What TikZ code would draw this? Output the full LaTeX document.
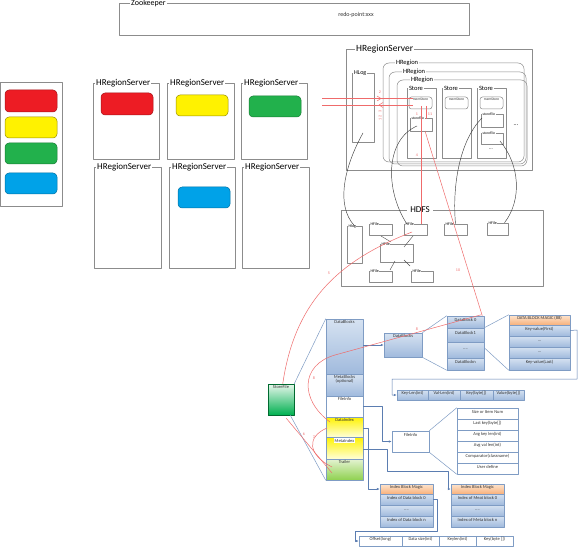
\documentclass[tikz,border=0pt]{standalone}
\usepackage{fontspec}
\setmainfont{Carlito}
\usetikzlibrary{fit,arrows.meta}
\definecolor{fr}{HTML}{8C8C8C}
\definecolor{bd}{HTML}{7F9CC4}
\definecolor{ln}{HTML}{5B7DB1}
\definecolor{bl1}{HTML}{D6E2F1}
\definecolor{bl2}{HTML}{A0BADD}
\definecolor{or1}{HTML}{FDE5CF}
\definecolor{or2}{HTML}{F8B07A}
\definecolor{rd}{HTML}{EF6B6B}
\definecolor{pR}{HTML}{ED1C24}
\definecolor{pY}{HTML}{FFF200}
\definecolor{pG}{HTML}{22B14C}
\definecolor{pB}{HTML}{00A2E8}
\definecolor{gn1}{HTML}{E8F7EC}
\definecolor{gn2}{HTML}{00B050}
\definecolor{tg1}{HTML}{E4F3D2}
\definecolor{tg2}{HTML}{8FD14F}
\definecolor{yl2}{HTML}{FFFFD8}
\newcommand\fsz[1]{\fontsize{#1}{#1}\selectfont}
\newcommand\mkbox[7]{\node[inner sep=0pt,#1,fit={(#3,#4) (#5,#6)}] (#2) {#7};}
\begin{document}
\begin{tikzpicture}[x=1pt,y=-1pt,line join=round,
 frame/.style={draw=fr,line width=0.5pt},
 flab/.style={fill=white,inner xsep=1pt,inner ysep=0pt,anchor=west,font=\fsz{9}},
 slab/.style={fill=white,inner xsep=0.8pt,inner ysep=0pt,anchor=west,font=\fsz{6}},
 tlab/.style={fill=white,inner xsep=0.4pt,inner ysep=0pt,anchor=west,font=\fsz{3.6}},
 pill/.style={rounded corners=4pt,line width=0.5pt},
 cell/.style={draw=bd,line width=0.5pt,font=\fsz{4.5},text=black!80},
 bcell/.style={cell,top color=bl1,bottom color=bl2},
 ocell/.style={cell,top color=or1,bottom color=or2},
 wcell/.style={cell,fill=white},
 ttl/.style={font=\fsz{4.5},text=black!80,anchor=north,inner sep=1.2pt},
 conn/.style={draw=ln,line width=0.5pt},
 arr/.style={conn,-{Latex[length=3pt,width=2.4pt]}},
 rline/.style={draw=rd,line width=0.5pt},
 rnum/.style={text=rd,font=\fsz{4},inner sep=0.5pt},
 cur/.style={draw=black!75,line width=0.45pt},
 thin/.style={draw=black!70,line width=0.4pt}]
\useasboundingbox[fill=white] (0,0) rectangle (578,548);

% ---------- Zookeeper
\mkbox{frame}{zk}{119}{3}{469}{35}{}
\node[flab,font=\fsz{8}] (zkl) at (130,3.5) {Zookeeper};
\node[font=\fsz{6},text=black!80] (redo) at (356,15) {redo-point:xxx};

% ---------- legend
\mkbox{frame}{leg}{0.5}{82}{62}{206}{}
\mkbox{pill,fill=pR,draw=pR!70!black}{lr}{5}{90}{57}{112}{}
\mkbox{pill,fill=pY,draw=pY!60!black}{ly}{5}{117}{57}{138}{}
\mkbox{pill,fill=pG,draw=pG!70!black}{lg}{5}{143}{57}{164}{}
\mkbox{pill,fill=pB,draw=pB!70!black}{lb}{5}{173}{57}{194}{}

% ---------- small region servers
\mkbox{frame}{s1}{93}{83}{159}{159}{}
\mkbox{frame}{s2}{167}{83}{234}{159}{}
\mkbox{frame}{s3}{241}{83}{307}{159}{}
\mkbox{frame}{s4}{94}{167}{161}{268}{}
\mkbox{frame}{s5}{169}{167}{235}{268}{}
\mkbox{frame}{s6}{242}{167}{309}{268}{}
\node[flab] (s1l) at (95,83) {HRegionServer};
\node[flab] (s2l) at (169,83) {HRegionServer};
\node[flab] (s3l) at (243,83) {HRegionServer};
\node[flab] (s4l) at (96,167) {HRegionServer};
\node[flab] (s5l) at (171,167) {HRegionServer};
\node[flab] (s6l) at (244,167) {HRegionServer};
\mkbox{pill,fill=pR,draw=pR!70!black}{p1}{101}{93}{153}{115}{}
\mkbox{pill,fill=pY,draw=pY!60!black}{p2}{176}{95}{228}{116}{}
\mkbox{pill,fill=pG,draw=pG!70!black}{p3}{249}{96}{301}{117}{}
\mkbox{pill,fill=pB,draw=pB!70!black}{p5}{178}{187}{230}{208}{}

% ---------- big region server
\mkbox{frame}{hrs}{346}{49}{532}{170}{}
\node[flab,font=\fsz{9.5}] (hrsl) at (355,49) {HRegionServer};
\mkbox{frame}{hlog}{352}{73}{374}{142}{}
\node[slab] (hlogl) at (353,73) {HLog};
\mkbox{frame,rounded corners=6pt}{hrA}{383}{63}{524}{162}{}
\mkbox{frame,rounded corners=6pt}{hrB}{389}{72}{526}{164}{}
\mkbox{frame,rounded corners=6pt}{hrC}{397}{80}{527}{166}{}
\node[slab,font=\fsz{6.5}] (hrAl) at (395,63) {HRegion};
\node[slab,font=\fsz{6.5}] (hrBl) at (402,72) {HRegion};
\node[slab,font=\fsz{6.5}] (hrCl) at (410,80) {HRegion};
\mkbox{frame,fill=white}{st1}{407}{88}{436}{158}{}
\mkbox{frame,fill=white}{st2}{442}{88}{471}{158}{}
\mkbox{frame,fill=white}{st3}{477}{88}{506}{158}{}
\node[slab,font=\fsz{6.5}] (st1l) at (408,88) {Store};
\node[slab,font=\fsz{6.5}] (st2l) at (443,88) {Store};
\node[slab,font=\fsz{6.5}] (st3l) at (478,88) {Store};
\mkbox{frame,rounded corners=2.5pt}{m1}{409}{97}{432}{109}{}
\mkbox{frame,rounded corners=2.5pt}{m2}{445}{97}{468}{109}{}
\mkbox{frame,rounded corners=2.5pt}{m3}{480}{97}{503}{109}{}
\node[ttl,font=\fsz{3.6},inner sep=0.8pt] (m1l) at (m1.north) {memStore};
\node[ttl,font=\fsz{3.6},inner sep=0.8pt] (m2l) at (m2.north) {memStore};
\node[ttl,font=\fsz{3.6},inner sep=0.8pt] (m3l) at (m3.north) {memStore};
\mkbox{frame}{f1}{410}{118}{432}{131}{}
\mkbox{frame}{f2}{481}{114}{503}{127}{}
\mkbox{frame}{f3}{481}{133}{503}{144}{}
\node[tlab] (f1l) at (411,118) {storeFile};
\node[tlab] (f2l) at (482,114) {storeFile};
\node[tlab] (f3l) at (482,133) {storeFile};
\node[font=\fsz{5},inner sep=0pt] (dots1) at (491,149) {...};
\node[font=\fsz{6},inner sep=0pt] (dots2) at (516,125) {...};

% ---------- HDFS
\mkbox{frame}{hdfs}{341}{210}{543}{286}{}
\node[fill=white,font=\fsz{9},inner xsep=3pt,inner ysep=0pt] (hdfsl) at (420,210) {HDFS};
\mkbox{frame}{hlg}{347}{226}{362}{263}{}
\node[tlab,font=\fsz{4}] (hlgl) at (348,226) {Hlog};
\mkbox{frame}{hf1}{369}{224}{392}{235}{}
\mkbox{frame}{hf2}{404}{224}{427}{235}{}
\mkbox{frame}{hf3}{444}{224}{467}{235}{}
\mkbox{frame}{hf4}{487}{223}{508}{235}{}
\mkbox{frame}{hfm}{380}{244}{413}{262}{}
\mkbox{frame}{hf5}{369}{271}{392}{282}{}
\mkbox{frame}{hf6}{411}{271}{433}{282}{}
\node[tlab,font=\fsz{4}] (hf1l) at (370,224) {HFile};
\node[tlab,font=\fsz{4}] (hf2l) at (405,224) {HFile};
\node[tlab,font=\fsz{4}] (hf3l) at (445,224) {HFile};
\node[tlab,font=\fsz{4}] (hf4l) at (488,223) {HFile};
\node[tlab,font=\fsz{4}] (hfml) at (381,244) {HFile};
\node[tlab,font=\fsz{4}] (hf5l) at (370,271) {HFile};
\node[tlab,font=\fsz{4}] (hf6l) at (412,271) {HFile};
\draw[thin] (381,236) -- (391,242);
\draw[thin] (413,236) -- (404,247);
\draw[thin] (395,261) -- (390,270);
\draw[thin] (404,260) -- (410,266);

% ---------- curves from region server to HDFS
\coordinate (c1s) at (363,133);
\coordinate (c2s) at (417,126);
\coordinate (c3s) at (482,118);
\coordinate (c4s) at (500,141);
\draw[cur] (c1s) .. controls (345,165) and (335,205) .. (hlg.north);
\draw[cur] (c2s) .. controls (385,140) and (385,190) .. ([xshift=3pt]hf2.north west);
\draw[cur] (c3s) .. controls (460,140) and (452,185) .. (hf3.north);
\draw[cur] (c4s) .. controls (520,165) and (522,200) .. ([xshift=7pt]hf4.north);

% ---------- HFile column
\mkbox{frame,draw=gn2!60!black,top color=gn1,bottom color=gn2}{sf}{268}{384}{294}{415}{}
\node[ttl] (sfl) at (sf.north) {StoreFile};
\mkbox{bcell}{cDB}{326}{319}{363}{374}{}
\mkbox{bcell}{cMB}{326}{374}{363}{396}{}
\mkbox{wcell}{cFI}{326}{396}{363}{417}{}
\mkbox{cell,top color=pY,bottom color=yl2}{cDI}{326}{417}{363}{437}{}
\mkbox{cell,top color=pY,bottom color=yl2}{cMI}{326}{437}{363}{459}{}
\mkbox{cell,top color=tg1,bottom color=tg2}{cTR}{326}{459}{363}{480}{}
\node[ttl] (cDBl) at (cDB.north) {DataBlocks};
\node[ttl,align=center] (cMBl) at (cMB.north) {MetaBlocks\\(optional)};
\node[ttl] (cFIl) at (cFI.north) {FileInfo};
\node[ttl] (cDIl) at (cDI.north) {DataIndex};
\node[ttl,fill=white,anchor=north,yshift=-1.5pt,inner sep=0.8pt] (cMIl) at (cMI.north) {MetaIndex};
\node[ttl] (cTRl) at (cTR.north) {Trailer};
\draw[conn,draw=bd] (sf.north east) -- (cDB.north west);
\draw[conn,draw=bd] ([xshift=-4pt]sf.south east) -- (cTR.south west);

% ---------- DataBlocks detail
\mkbox{bcell}{dbx}{384}{333}{422}{357}{}
\node[ttl] (dbxl) at (dbx.north) {DataBlocks};
\draw[arr] (cDB.east |- dbx.west) -- (dbx.west);
\mkbox{bcell}{db0}{447}{316}{484}{328}{DataBlock 0}
\mkbox{bcell}{db1}{447}{328}{484}{342}{DataBlock1}
\mkbox{bcell}{db2}{447}{342}{484}{358}{....}
\mkbox{bcell}{dbn}{447}{358}{484}{370}{DataBlockn}
\draw[conn,draw=bd] (dbx.north east) -- (db0.north west);
\draw[conn,draw=bd] (dbx.south east) -- (dbn.south west);
\mkbox{ocell}{dm0}{509}{315}{570}{325}{DATA BLOCK MAGIC (88)}
\mkbox{bcell}{dm1}{509}{325}{570}{336}{Key-value(First)}
\mkbox{bcell}{dm2}{509}{336}{570}{347}{...}
\mkbox{bcell}{dm3}{509}{347}{570}{358}{...}
\mkbox{bcell}{dm4}{509}{358}{570}{370}{Key-value(Last)}
\draw[conn,draw=bd] (db1.north east) -- (dm0.north west);
\draw[conn,draw=bd] ([yshift=-6pt]db2.north east) -- (dm4.south west);
\mkbox{bcell}{k1}{397}{390}{428}{400}{Key-Len(int)}
\mkbox{bcell}{k2}{428}{390}{460}{400}{Val-Len(int)}
\mkbox{bcell}{k3}{460}{390}{493}{400}{Key(byte[])}
\mkbox{bcell}{k4}{493}{390}{524}{400}{Value(byte[])}
\coordinate (kA) at (577,330);
\coordinate (kB) at (577,379);
\coordinate (kC) at (392,379);
\draw[arr] (dm1.east) -- (kA) -- (kB) -- (kC) |- (k1.west);

% ---------- FileInfo detail
\mkbox{wcell}{fib}{392}{431}{429}{452}{}
\node[ttl,yshift=-1pt] (fibl) at (fib.north) {FileInfo};
\coordinate (fiA) at (382,406);
\draw[arr] (cFI.east |- fiA) -- (fiA) |- (fib.west);
\mkbox{wcell}{fl1}{457}{408}{518}{419}{Size or Item Num}
\mkbox{wcell}{fl2}{457}{419}{518}{430}{Last key(byte[])}
\mkbox{wcell}{fl3}{457}{430}{518}{441}{Avg key len(int)}
\mkbox{wcell}{fl4}{457}{441}{518}{452}{Avg val len(int)}
\mkbox{wcell}{fl5}{457}{452}{518}{463}{Comparator(classname)}
\mkbox{wcell}{fl6}{457}{463}{518}{474}{User define}
\draw[conn,draw=bd] (fib.north east) -- (fl1.north west);
\draw[conn,draw=bd] (fib.south east) -- (fl6.south west);

% ---------- index tables
\mkbox{ocell}{ia0}{380}{484}{433}{494}{Index Block Magic}
\mkbox{bcell}{ia1}{380}{494}{433}{505}{Index of Data block 0}
\mkbox{bcell}{ia2}{380}{505}{433}{516}{....}
\mkbox{bcell}{ia3}{380}{516}{433}{527}{Index of Data block n}
\mkbox{ocell}{ib0}{451}{484}{504}{494}{Index Block Magic}
\mkbox{bcell}{ib1}{451}{494}{504}{505}{Index of Meat block 0}
\mkbox{bcell}{ib2}{451}{505}{504}{516}{....}
\mkbox{bcell}{ib3}{451}{516}{504}{527}{Index of Meta block n}
\coordinate (diA) at (368,428);
\draw[arr] (cDI.east |- diA) -- (diA) |- (ia0.west);
\coordinate (miA) at (387,449);
\coordinate (miB) at (387,471);
\coordinate (miC) at (448,471);
\draw[arr] (cMI.east |- miA) -- (miA) -- (miB) -- (miC) |- (ib0.west);
\mkbox{wcell}{o1}{359}{536}{402}{546}{Offset(long)}
\mkbox{wcell}{o2}{402}{536}{439}{546}{Data size(int)}
\mkbox{wcell}{o3}{439}{536}{476}{546}{Keylen(int)}
\mkbox{wcell}{o4}{476}{536}{513}{546}{Key(byte [])}
\coordinate (oA) at (437,499);
\coordinate (oB) at (437,531);
\coordinate (oC) at (355,531);
\draw[arr] (ia1.east |- oA) -- (oA) -- (oB) -- (oC) |- (o1.west);

% ---------- red flow lines
\coordinate (rA1) at (322,98.5);
\coordinate (rA2) at (413,98.5);
\coordinate (rB1) at (322,105);
\coordinate (rB2) at (413,105);
\draw[rline] (rA1) -- (rA2);
\draw[rline] (rB1) -- (rB2);
\draw[rline] (377,96) -- (381,98.5) -- (377,101);
\draw[rline] (383,102.5) -- (379,105) -- (383,107.5);
\node[rnum] (n2) at (380,92) {2};
\node[rnum,rotate=90] (n3) at (380,111) {3};
\node[rnum,rotate=90] (n12) at (380,118) {12};
\coordinate (rC1) at (421,106);
\draw[rline] (rC1) -- (hf2.north -| rC1);
\coordinate (rD1) at (426,106);
\coordinate (rD2) at (426,119);
\draw[rline] (rD1) -- (rD2);
\coordinate (rE1) at (425,131);
\draw[rline] (rE1) -- ([xshift=-2pt]db0.north east);
\node[rnum] (n1) at (417,114) {1};
\node[rnum] (n11) at (430,114) {11};
\node[rnum] (n4) at (417,155) {4};
\node[rnum] (n10) at (458,270) {10};
\coordinate (r5s) at (412,232);
\draw[rline] (r5s) .. controls (340,260) and (295,300) .. ([xshift=15pt]sf.north west);
\node[rnum] (n5) at (329,273) {5};
\coordinate (r6e) at (332,473);
\draw[rline] ([xshift=-8pt,yshift=-3pt]sf.south east) -- (r6e);
\node[rnum] (n6) at (304,434) {6};
\coordinate (r7s) at (332,467);
\coordinate (r7e) at (327,428);
\draw[rline] (r7s) .. controls (308,455) and (306,437) .. (r7e);
\node[rnum] (n7) at (314,437) {7};
\coordinate (r8s) at (330,422);
\coordinate (r8m) at (335,355);
\draw[rline] (r8s) .. controls (300,400) and (300,365) .. (r8m) -- ([xshift=-3pt,yshift=1pt]db0.north east);
\node[rnum] (n8) at (314,378) {8};
\node[rnum] (n8b) at (417,329) {8};
\end{tikzpicture}
\end{document}
